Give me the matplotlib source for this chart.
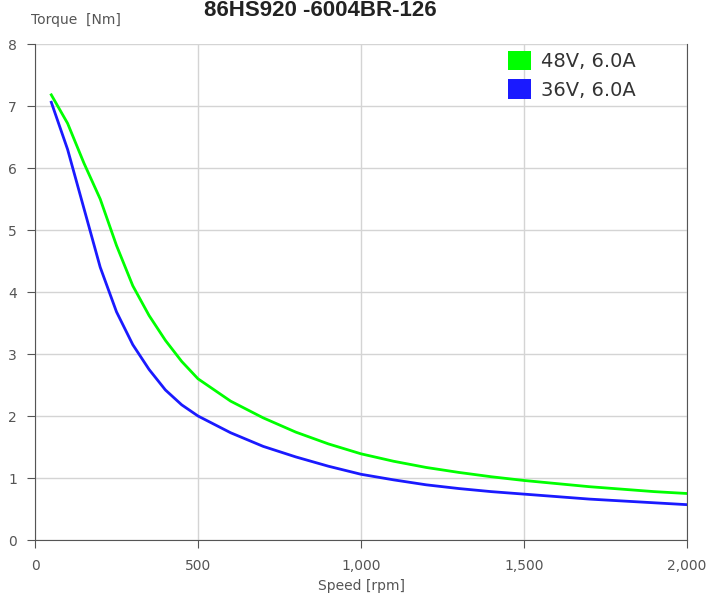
import matplotlib
matplotlib.use("Agg")
import matplotlib.pyplot as plt
from matplotlib.patches import Patch
from matplotlib.ticker import FuncFormatter

speed = [50, 100, 150, 200, 250, 300, 350, 400, 450, 500, 600, 700, 800, 900, 1000,
         1100, 1200, 1300, 1400, 1500, 1600, 1700, 1800, 1900, 2000]
torque_48v = [7.18, 6.72, 6.08, 5.5, 4.75, 4.1, 3.62, 3.22, 2.88, 2.6, 2.24, 1.97, 1.74, 1.55, 1.39,
              1.27, 1.17, 1.09, 1.02, 0.96, 0.91, 0.86, 0.82, 0.78, 0.75]
torque_36v = [7.06, 6.3, 5.35, 4.4, 3.68, 3.15, 2.75, 2.42, 2.18, 2.0, 1.73, 1.51, 1.34, 1.19, 1.06,
              0.97, 0.89, 0.83, 0.78, 0.74, 0.7, 0.66, 0.63, 0.6, 0.57]
labels = ["48V, 6.0A", "36V, 6.0A"]
colors = ["#00ff00", "#1a1aff"]
title = "86HS920 -6004BR-126"
xticks = [0, 500, 1000, 1500, 2000]
yticks = list(range(0, 9))

fig = plt.figure(figsize=(7.08, 5.96), dpi=100)
ax = fig.add_axes([35/708, 1-540/596, (687-35)/708, (540-44)/596])

ax.plot(speed, torque_48v, color=colors[0], lw=2.0)
ax.plot(speed, torque_36v, color=colors[1], lw=2.0)

ax.set_xlim(0, 2000)
ax.set_ylim(0, 8)
ax.set_xticks(xticks)
ax.set_yticks(yticks)
ax.xaxis.set_major_formatter(FuncFormatter(lambda v, p: f"{int(v):,}"))
ax.grid(True, color="#d4d4d4", lw=1)
ax.set_axisbelow(True)
ax.spines["top"].set_visible(False)
for s in ["right", "left", "bottom"]:
    ax.spines[s].set_color("#555555")
ax.tick_params(axis="both", direction="out", length=6, color="#555555",
               labelsize=10, labelcolor="#555555")
ax.tick_params(axis="x", pad=8)
ax.tick_params(axis="y", pad=7)

ax.set_xlabel("Speed [rpm]", fontsize=10, color="#555555", labelpad=4)
fig.text(31/708, 1-20/596, "Torque  [Nm]", fontsize=10, color="#555555", va="center", ha="left")
fig.text(320/708, 1-0.5/596, title, fontsize=16, fontweight="bold", color="#222222",
         ha="center", va="top", family="Liberation Sans")

handles = [Patch(facecolor=c, edgecolor="none") for c in colors]
leg = ax.legend(handles, labels, loc="upper right", bbox_to_anchor=(0.922, 0.986), frameon=False,
                fontsize=14, handlelength=1.15, handleheight=1.15, handletextpad=0.55,
                labelspacing=0.42, borderaxespad=0, borderpad=0)
for t in leg.get_texts():
    t.set_color("#333333")

fig.savefig("out.png", dpi=100)
